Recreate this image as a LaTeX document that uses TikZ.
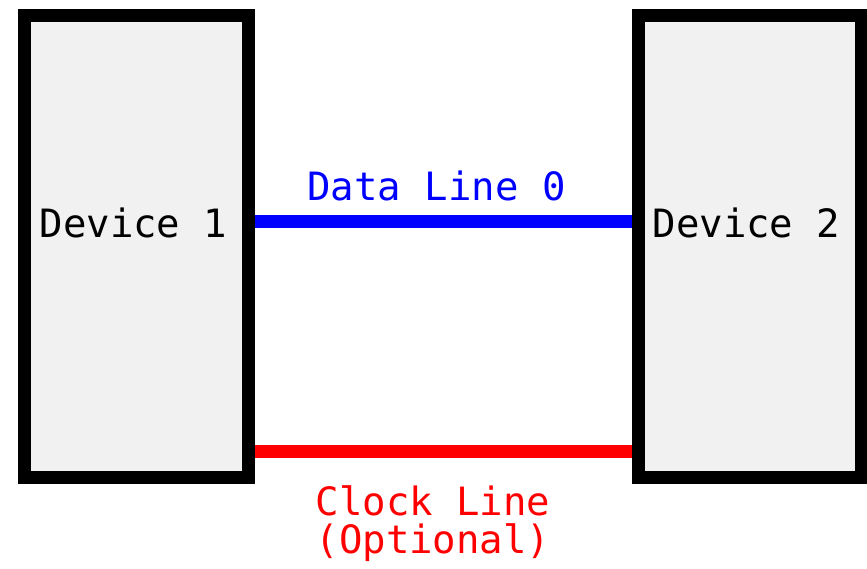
\documentclass[tikz,border=0pt]{standalone}
\usepackage{fontspec}
\newfontfamily\diagmono{DejaVu Sans Mono}
\definecolor{boxgray}{HTML}{F1F1F1}
\begin{document}
\begin{tikzpicture}[x=1pt,y=-1pt,
  device/.style={draw=black, fill=boxgray, line width=13pt, rectangle, inner sep=0pt,
    minimum width=223.5pt, minimum height=461.5pt},
  lbl/.style={font=\diagmono\fontsize{39}{38}\selectfont, inner sep=0pt, anchor=base},
  dataline/.style={draw=blue, line width=13pt},
  clockline/.style={draw=red, line width=13pt}]
\useasboundingbox[fill=white] (0,0) rectangle (867,568);
\node[device] (d1) at (136.5,246.25) {};
\node[device] (d2) at (749.75,246.25) {};
\node[lbl] (t1) at (133.5,237) {Device 1};
\node[lbl] (t2) at (746.5,237) {Device 2};
\coordinate (ydata) at (0,221.5);
\coordinate (yclock) at (0,451.5);
\draw[dataline] (d1.east |- ydata) -- (d2.west |- ydata);
\draw[clockline] (d1.east |- yclock) -- (d2.west |- yclock);
\node[lbl, text=blue] (dl) at (436.5,200.5) {Data Line 0};
\node[lbl, text=red, align=center] (cl) at (433,553) {Clock Line\\(Optional)};
\end{tikzpicture}
\end{document}
